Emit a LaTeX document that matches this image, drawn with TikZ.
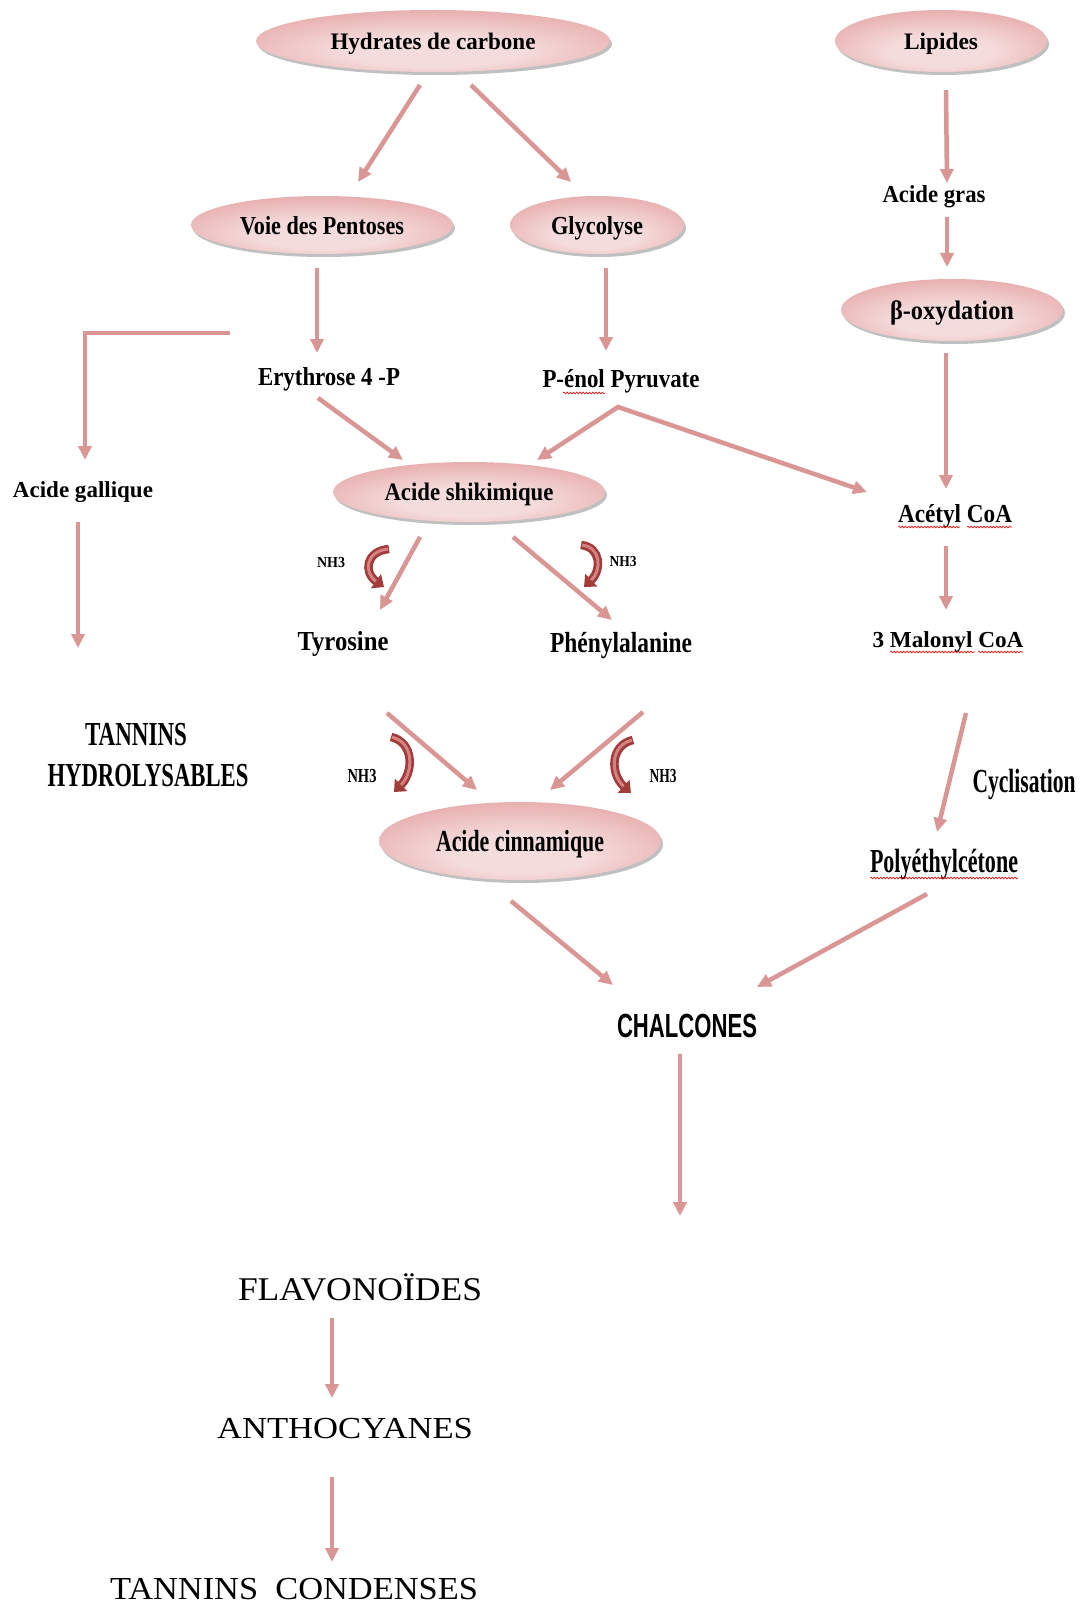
\documentclass[tikz,border=0pt]{standalone}
\usepackage{graphicx}
\usepackage{fontspec}
\setmainfont{Liberation Serif}
\newfontfamily\sansb{Liberation Sans}
\usetikzlibrary{arrows.meta,shapes.geometric,shadows,decorations.pathmorphing}
\definecolor{arrc}{RGB}{217,150,148}
\definecolor{pinkl}{RGB}{245,220,220}
\definecolor{pinkm}{RGB}{231,172,172}
\definecolor{pinkd}{RGB}{210,125,125}
\definecolor{hookdk}{RGB}{160,60,58}
\definecolor{hooklt}{RGB}{214,130,128}
\pgfdeclareradialshading{ellsh}{\pgfpoint{0bp}{-10bp}}{color(0bp)=(pinkl); color(12bp)=(pinkl); color(32bp)=(pinkm); color(52bp)=(pinkd); color(70bp)=(pinkd)}
\newlength\ftw
\newlength\fth
\newcommand\ft[3]{\settowidth\ftw{#3}\settoheight\fth{H}%
  \pgfmathsetmacro\ftsx{#1/\ftw}\pgfmathsetmacro\ftsy{#2/\fth}%
  \scalebox{\ftsx}[\ftsy]{#3}}
\tikzset{
  ell/.style={ellipse, shading=ellsh, drop shadow={shadow xshift=2pt,shadow yshift=-3pt,opacity=0.35,fill=black!70}, inner sep=0pt, text depth=0pt, font=\bfseries},
  lab/.style={anchor=base, inner sep=0pt, font=\bfseries},
  big/.style={anchor=base, inner sep=0pt, font=\rmfamily},
  arr/.style={draw=arrc, line width=4.5pt, line join=miter, -{Triangle[width=13pt,length=14pt]}},
  hookA/.style={draw=hookdk, line width=8.5pt, -{Triangle[width=17pt,length=10pt]}},
  hookB/.style={draw=hooklt, line width=3pt, shorten >=10pt, shorten <=1pt},
  spell/.style={draw=red, line width=0.6pt, decorate, decoration={snake, amplitude=0.9pt, segment length=3.2pt}}
}
\begin{document}
\begin{tikzpicture}[x=1pt,y=-1pt]
\fill[white] (0,0) rectangle (1083,1605);
\useasboundingbox (0,0) rectangle (1083,1605);

% ellipses
\node[ell, minimum width=354pt, minimum height=62pt] (hdc) at (433,41) {\ft{205}{15.5}{Hydrates de carbone}};
\node[ell, minimum width=212pt, minimum height=62pt] (lip) at (941,41) {\ft{74}{15.5}{Lipides}};
\node[ell, minimum width=262pt, minimum height=58pt] (voie) at (322,225) {\ft{164}{17}{Voie des Pentoses}};
\node[ell, minimum width=174pt, minimum height=58pt] (gly) at (597,225) {\ft{92}{17}{Glycolyse}};
\node[ell, minimum width=222pt, minimum height=62pt] (beta) at (952,310) {\ft{124}{17.5}{β-oxydation}};
\node[ell, minimum width=272pt, minimum height=60pt] (shik) at (469,492) {\ft{169}{16.5}{Acide shikimique}};
\node[ell, minimum width=282pt, minimum height=78pt] (cinn) at (520,841) {\ft{168}{20}{Acide cinnamique}};

% text nodes
\node[lab] (gras) at (934,203) {\ft{103}{16}{Acide gras}};
\node[lab] (ery) at (329,385) {\ft{142}{17}{Erythrose 4 -P}};
\node[lab] (pep) at (621,387) {\ft{157}{17}{P-énol Pyruvate}};
\node[lab] (gall) at (83,497) {\ft{140}{15}{Acide gallique}};
\node[lab] (acet) at (955,522) {\ft{114}{17}{Acétyl CoA}};
\node[lab] (tyr) at (343,650) {\ft{91}{18}{Tyrosine}};
\node[lab] (phe) at (621,652) {\ft{142}{19}{Phénylalanine}};
\node[lab] (malo) at (948,647) {\ft{151}{15}{3 Malonyl CoA}};
\node[lab] (tannA) at (136,745) {\ft{102}{22}{TANNINS}};
\node[lab] (tannB) at (148,786) {\ft{201}{22}{HYDROLYSABLES}};
\node[lab] (cyc) at (1024,792) {\ft{103}{22}{Cyclisation}};
\node[lab] (poly) at (944,872) {\ft{148}{22}{Polyéthylcétone}};
\node[lab, font=\sansb\bfseries] (chal) at (687,1037) {\ft{140}{23}{CHALCONES}};
\node[big] (flav) at (360,1300) {\ft{244}{21.7}{FLAVONOÏDES}};
\node[big] (anth) at (345,1438) {\ft{256}{20}{ANTHOCYANES}};
\node[big] (tc) at (294,1599) {\ft{368}{21}{TANNINS\ \ CONDENSES}};
\node[lab] (nA) at (331,567) {\ft{28}{10}{NH3}};
\node[lab] (nB) at (623,566) {\ft{27}{10}{NH3}};
\node[lab] (nC) at (362,782) {\ft{29}{13}{NH3}};
\node[lab] (nD) at (663,782) {\ft{27}{13}{NH3}};

% spell-check underlines
\draw[spell] ([shift={(-58,6)}]pep.base) -- ++(42,0);
\draw[spell] ([shift={(-57,5)}]acet.base) -- ++(62,0);
\draw[spell] ([shift={(12,5)}]acet.base) -- ++(45,0);
\draw[spell] ([shift={(-58,5)}]malo.base) -- ++(85,0);
\draw[spell] ([shift={(30,5)}]malo.base) -- ++(45,0);
\draw[spell] ([shift={(-74,6)}]poly.base) -- ++(148,0);

% connectors
\draw[arr] ([shift={(-13,44)}]hdc.center) -- ([shift={(36,-43)}]voie.center);
\draw[arr] ([shift={(38,44)}]hdc.center) -- ([shift={(-26,-43)}]gly.center);
\draw[arr] ([shift={(5,49)}]lip.center) -- ([shift={(13,-20)}]gras.base);
\draw[arr] ([shift={(13,14)}]gras.base) -- ([shift={(-5,-43)}]beta.center);
\draw[arr] ([shift={(-5,43)}]voie.center) -- ([shift={(-12,-32)}]ery.base);
\draw[arr] ([shift={(9,43)}]gly.center) -- ([shift={(-15,-36)}]pep.base);
\draw[arr] ([shift={(-99,-52)}]ery.base) -| ([shift={(2,-37)}]gall.base);
\draw[arr] ([shift={(-6,43)}]beta.center) -- ([shift={(-9,-33)}]acet.base);
\draw[arr] ([shift={(-11,13)}]ery.base) -- ([shift={(-66,-32)}]shik.center);
\coordinate (fork) at ([shift={(-3,20)}]pep.base);
\draw[arr, {Triangle[width=13pt,length=14pt]}-{Triangle[width=13pt,length=14pt]}] ([shift={(68,-32)}]shik.center) -- (fork) -- ([shift={(-88,-30)}]acet.base);
\draw[arr] ([shift={(-5,25)}]gall.base) -- ([shift={(-58,-97)}]tannA.base);
\draw[arr] ([shift={(-49,45)}]shik.center) -- ([shift={(37,-40)}]tyr.base);
\draw[arr] ([shift={(44,45)}]shik.center) -- ([shift={(-9,-32)}]phe.base);
\draw[arr] ([shift={(-9,24)}]acet.base) -- ([shift={(-2,-37)}]malo.base);
\draw[arr] ([shift={(44,63)}]tyr.base) -- ([shift={(-43,-51)}]cinn.center);
\draw[arr] ([shift={(22,60)}]phe.base) -- ([shift={(30,-51)}]cinn.center);
\draw[arr] ([shift={(18,66)}]malo.base) -- ([shift={(-7,-40)}]poly.base);
\draw[arr] ([shift={(-9,60)}]cinn.center) -- ([shift={(-74,-52)}]chal.base);
\draw[arr] ([shift={(-17,22)}]poly.base) -- ([shift={(70,-50)}]chal.base);
\coordinate (chalend) at (680,1216);
\draw[arr] ([shift={(-7,17)}]chal.base) -- (chalend);
\draw[arr] ([shift={(-28,18)}]flav.base) -- ([shift={(-13,-40)}]anth.base);
\draw[arr] ([shift={(-13,39)}]anth.base) -- ([shift={(38,-37)}]tc.base);

% NH3 curved arrows
\draw[hookA] (389,549) .. controls (366,551) and (363,572) .. (384,587);
\draw[hookB] (389,549) .. controls (366,551) and (363,572) .. (384,587);
\draw[hookA] (581,545) .. controls (601,547) and (602,570) .. (584,587);
\draw[hookB] (581,545) .. controls (601,547) and (602,570) .. (584,587);
\draw[hookA] (391,737) .. controls (414,742) and (414,772) .. (394,792);
\draw[hookB] (391,737) .. controls (414,742) and (414,772) .. (394,792);
\draw[hookA] (633,740) .. controls (610,745) and (610,774) .. (631,793);
\draw[hookB] (633,740) .. controls (610,745) and (610,774) .. (631,793);
\end{tikzpicture}
\end{document}
